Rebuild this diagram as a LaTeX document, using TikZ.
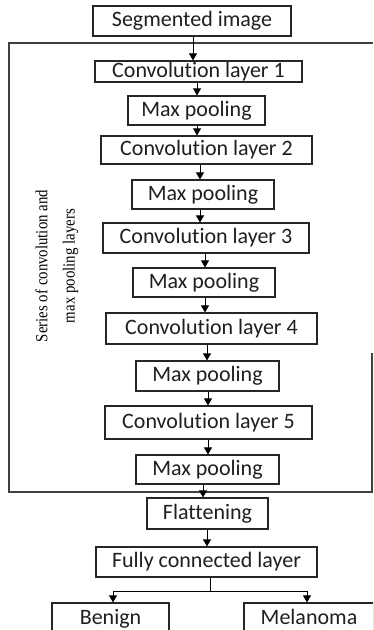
\documentclass[tikz,border=0pt]{standalone}
\usepackage{fontspec}
\usepackage{graphicx}
\setmainfont{Carlito}[Ligatures={NoCommon}]
\newfontfamily\serifnote{Liberation Serif}
\usetikzlibrary{arrows.meta}

\tikzset{
  stage/.style={draw=black!85, line width=1.2pt, inner sep=0pt,
    font=\fontsize{22}{24}\selectfont, text=black!88,
    text height=14.5pt, text depth=3.5pt},
  flow/.style={draw=black, line width=0.9pt,
    -{Triangle[width=8pt,length=7pt]}},
  frameline/.style={draw=black!75, line width=1.2pt},
  sidenote/.style={font=\serifnote\fontsize{17}{19}\selectfont,
    rotate=90, anchor=base, inner sep=0pt}
}

\begin{document}
\begin{tikzpicture}[x=1pt, y=-1pt]
  \clip (0,0) rectangle (373,630);
  \fill[white] (0,0) rectangle (373,630);

  % enclosing frame around the convolution / pooling stages
  \draw[frameline] (373,43) -- (9,43) -- (9,492) -- (372,492) -- (372,353);

  \node[sidenote] (note1) at (47.3,266) {\resizebox{152pt}{\height}{Series of convolution and}};
  \node[sidenote] (note2) at (74.7,266) {\resizebox{114pt}{\height}{max pooling layers}};

  % processing stages
  \node[stage, minimum width=198pt, minimum height=30pt] (seg)   at (192,21)    {Segmented image};
  \node[stage, minimum width=207pt, minimum height=21pt] (conv1) at (198.5,71.5) {Convolution layer 1};
  \node[stage, minimum width=137pt, minimum height=29pt] (mp1)   at (196.5,110.5) {Max pooling};
  \node[stage, minimum width=211pt, minimum height=28pt] (conv2) at (206.5,150)  {Convolution layer 2};
  \node[stage, minimum width=142pt, minimum height=29pt] (mp2)   at (203,194.5)  {Max pooling};
  \node[stage, minimum width=206pt, minimum height=30pt] (conv3) at (206,238)    {Convolution layer 3};
  \node[stage, minimum width=142pt, minimum height=29pt] (mp3)   at (204,282.5)  {Max pooling};
  \node[stage, minimum width=211pt, minimum height=31pt] (conv4) at (211.5,328.5) {Convolution layer 4};
  \node[stage, minimum width=143pt, minimum height=30pt] (mp4)   at (207.5,376)  {Max pooling};
  \node[stage, minimum width=207pt, minimum height=33pt] (conv5) at (208.5,422.5) {Convolution layer 5};
  \node[stage, minimum width=143pt, minimum height=29pt] (mp5)   at (207.5,469.5) {Max pooling};
  \node[stage, minimum width=121pt, minimum height=31pt] (flat)  at (207.5,513.5) {Flattening};
  \node[stage, minimum width=221pt, minimum height=30pt] (fc)    at (206.5,562)  {Fully connected layer};
  \node[stage, minimum width=117pt, minimum height=31pt] (benign) at (110.5,618.5) {Benign};
  \node[stage, minimum width=130pt, minimum height=31pt] (mel)   at (309,618.5)  {Melanoma};

  % vertical flow arrows
  \draw[flow] (seg.south -| 193,0)   -- (conv1.north -| 193,0);
  \draw[flow] (conv1.south -| 197,0) -- (mp1.north -| 197,0);
  \draw[flow] (mp1.south -| 197,0)   -- (conv2.north -| 197,0);
  \draw[flow] (conv2.south -| 200,0) -- (mp2.north -| 200,0);
  \draw[flow] (mp2.south -| 200,0)   -- (conv3.north -| 200,0);
  \draw[flow] (conv3.south -| 205,0) -- (mp3.north -| 205,0);
  \draw[flow] (mp3.south -| 205,0)   -- (conv4.north -| 205,0);
  \draw[flow] (conv4.south -| 207,0) -- (mp4.north -| 207,0);
  \draw[flow] (mp4.south -| 208,0)   -- (conv5.north -| 208,0);
  \draw[flow] (conv5.south -| 208,0) -- (mp5.north -| 208,0);
  \draw[flow] (mp5.south -| 203,0)   -- (flat.north -| 203,0);
  \draw[flow] (flat.south -| 207,0)  -- (fc.north -| 207,0);

  % split into the two classes
  \coordinate (split) at (210,591);
  \coordinate (lefttap) at (113,591);
  \coordinate (righttap) at (307,591);
  \draw[line width=0.9pt] (fc.south -| split) -- (split);
  \draw[line width=0.9pt] (lefttap) -- (righttap);
  \draw[flow] (lefttap) -- (benign.north -| lefttap);
  \draw[flow] (righttap) -- (mel.north -| righttap);
\end{tikzpicture}
\end{document}
